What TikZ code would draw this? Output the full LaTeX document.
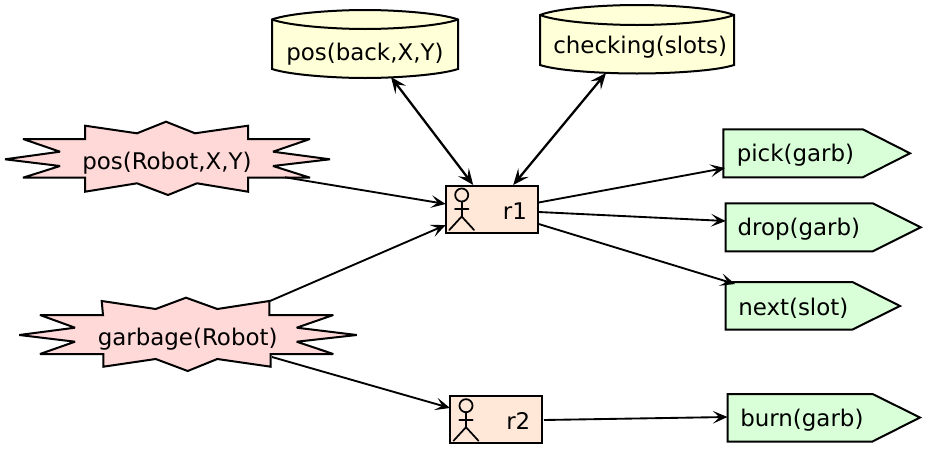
\documentclass[tikz,border=0pt]{standalone}
\usepackage{fontspec}
\setmainfont{DejaVu Sans}
\usetikzlibrary{arrows.meta}
\definecolor{starfill}{HTML}{FFD8D8}
\definecolor{dbfill}{HTML}{FFFFD8}
\definecolor{actfill}{HTML}{FFE8D8}
\definecolor{outfill}{HTML}{D8FFD8}
\tikzset{
  px/.style={x=0.75pt,y=-0.75pt},
  outline/.style={draw=black,line width=1.5pt,line join=miter,miter limit=4},
  starshape/.style={outline,fill=starfill},
  dbshape/.style={outline,fill=dbfill},
  outshape/.style={outline,fill=outfill},
  agentbox/.style={draw=black,line width=1.5pt,fill=actfill,minimum width=69pt,minimum height=35.5pt,inner sep=0pt,rectangle},
  lbl/.style={font=\fontsize{17.2pt}{20pt}\selectfont,anchor=base west,inner sep=0pt,text=black},
  conn/.style={draw=black,line width=1.4pt,-{Stealth[length=11pt,width=9.5pt,inset=5pt]}},
  conndbl/.style={draw=black,line width=1.7pt,{Stealth[length=12pt,width=10pt,inset=5pt]}-{Stealth[length=12pt,width=10pt,inset=5pt]}},
  figure/.style={draw=black,line width=1.3pt,line cap=round}
}
\newcommand{\stickman}[2]{%
  \begin{scope}[shift={(#1,#2)}]
    \draw[figure] (0,0) circle[radius=4.9pt];
    \draw[figure] (0,6.5) -- (0,21.5);
    \draw[figure] (-6.7,14.3) -- (6.7,14.3);
    \draw[figure] (-12.4,35) -- (0,21.5) -- (12.4,35);
  \end{scope}}
\begin{document}
\begin{tikzpicture}[px]
\useasboundingbox (0,0) rectangle (926,450);
% star: pos
\draw[starshape] (5,159.3) -- (60,151.7) -- (23,139) -- (85,139) -- (85,125.7) -- (137,133.3) -- (166,121.7) -- (195,133.3) -- (248,125.7) -- (248,139) -- (310,139) -- (273,151.7) -- (330,159.3) -- (273,166) -- (310,177.7) -- (248,177.7) -- (248,191.7) -- (197,183.3) -- (168,195) -- (137,183.3) -- (85,191.7) -- (85,177.7) -- (23,177.7) -- (60,166) -- cycle;
\node[lbl] (sp) at (82,169.3) {pos(Robot,X,Y)};
% star: garbage
\draw[starshape] (19.3,335) -- (75,327.7) -- (40,315) -- (103,315) -- (101.7,301) -- (155.7,309) -- (186,297.7) -- (217.3,309) -- (269.3,301) -- (269.3,315) -- (333.3,315) -- (296.7,327.7) -- (356.7,335) -- (296.7,341.7) -- (333.3,354) -- (270.7,354) -- (270.7,366.7) -- (217.3,359) -- (187.7,371) -- (155.7,359) -- (103.3,366.7) -- (103.3,354) -- (40,354) -- (75,341.7) -- cycle;
\node[lbl] (sg) at (97.5,345) {garbage(Robot)};
% databases
\draw[dbshape] (272,19.5) -- (272,69) .. controls (290,75) and (335,78) .. (365,78) .. controls (395,78) and (440,75) .. (458,69) -- (458,19.5) .. controls (440,13) and (395,10) .. (365,10) .. controls (335,10) and (290,13) .. (272,19.5) -- cycle;
\draw[outline] (272,19.5) .. controls (290,26) and (335,29) .. (365,29) .. controls (395,29) and (440,26) .. (458,19.5);
\node[lbl] (db1) at (286,60) {pos(back,X,Y)};
\draw[dbshape] (540,15) -- (540,65) .. controls (558,71) and (605,73.5) .. (637,73.5) .. controls (669,73.5) and (716,71) .. (734,65) -- (734,15) .. controls (716,8) and (669,5) .. (637,5) .. controls (605,5) and (558,8) .. (540,15) -- cycle;
\draw[outline] (540,15) .. controls (558,22) and (605,25) .. (637,25) .. controls (669,25) and (716,22) .. (734,15);
\node[lbl] (db2) at (553,53.3) {checking(slots)};
% agents
\node[agentbox] (r1) at (491.7,209.5) {};
\stickman{461.7}{195}
\node[lbl] (r1t) at (502.7,219.3) {r1};
\node[agentbox] (r2) at (495.5,419.5) {};
\stickman{466}{405.7}
\node[lbl] (r2t) at (506,429) {r2};
% outputs
\draw[outshape] (723.3,129.3) -- (862.7,129.3) -- (910,153.3) -- (862.7,177.3) -- (723.3,177.3) -- cycle;
\node[lbl] (o1) at (736.5,161.7) {pick(garb)};
\draw[outshape] (725.7,203.3) -- (872.7,203.3) -- (920.7,227.3) -- (872.7,251.3) -- (725.7,251.3) -- cycle;
\node[lbl] (o2) at (737.3,235) {drop(garb)};
\draw[outshape] (725.7,282) -- (852.5,282) -- (900,306) -- (852.5,329.5) -- (725.7,329.5) -- cycle;
\node[lbl] (o3) at (738,315) {next(slot)};
\draw[outshape] (727.5,394) -- (872.5,394) -- (920,417.5) -- (872.5,441.5) -- (727.5,441.5) -- cycle;
\node[lbl] (o4) at (740,426.7) {burn(garb)};
% connectors
\draw[conn] ([shift={(203,8)}]sp.base west) -- ([shift={(-46,-5.5)}]r1.center);
\draw[conn] ([shift={(172.5,-44)}]sg.base west) -- ([shift={(-46,15.5)}]r1.center);
\draw[conn] ([shift={(174.5,12)}]sg.base west) -- ([shift={(-45.5,-11.5)}]r2.center);
\draw[conn] ([shift={(47,-7)}]r1.center) -- ([shift={(-11.5,6.3)}]o1.base west);
\draw[conn] ([shift={(47,2.5)}]r1.center) -- ([shift={(-11.5,-14)}]o2.base west);
\draw[conn] ([shift={(47,14.5)}]r1.center) -- ([shift={(-3,-31)}]o3.base west);
\draw[conn] ([shift={(48.5,0.5)}]r2.center) -- ([shift={(-12.5,-9.7)}]o4.base west);
\draw[conndbl] ([shift={(105,17)}]db1.base west) -- ([shift={(-18.5,-24.5)}]r1.center);
\draw[conndbl] ([shift={(53,19.7)}]db2.base west) -- ([shift={(21.5,-24.5)}]r1.center);
\end{tikzpicture}
\end{document}
